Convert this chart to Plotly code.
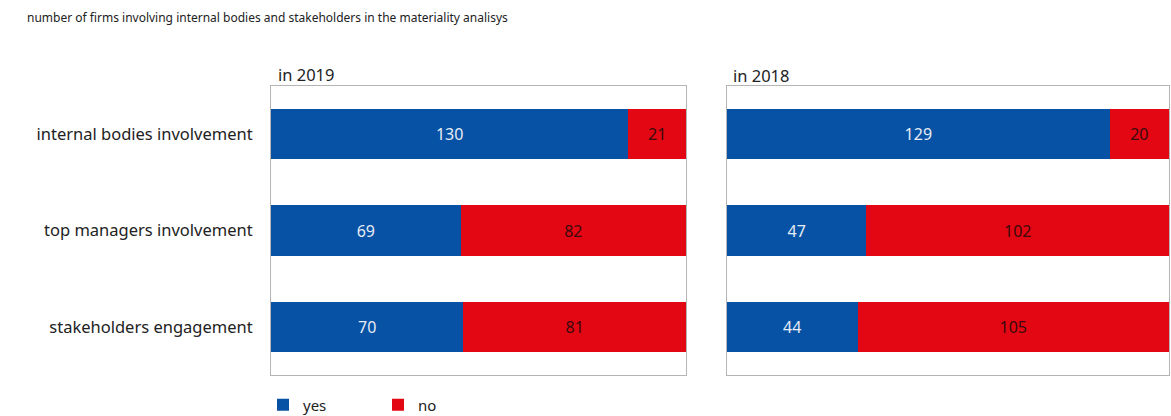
import plotly.graph_objects as go

categories = ["internal bodies involvement", "top managers involvement", "stakeholders engagement"]
yes_2019 = [130, 69, 70]
no_2019 = [21, 82, 81]
yes_2018 = [129, 47, 44]
no_2018 = [20, 102, 105]

BLUE = "#0752A5"
RED = "#E30613"
FONT = "Noto Sans, Open Sans, sans-serif"
W, H = 1171, 416

fig = go.Figure()

def add_panel(yes, no, xa, ya, show):
    fig.add_trace(go.Bar(y=categories, x=yes, orientation="h", name="yes",
                         marker=dict(color=BLUE, line=dict(width=0)),
                         text=yes, textposition="inside", insidetextanchor="middle",
                         textfont=dict(color="#E6ECF5", size=16, family=FONT),
                         xaxis=xa, yaxis=ya, showlegend=show, legendgroup="yes",
                         width=0.52, hoverinfo="skip"))
    fig.add_trace(go.Bar(y=categories, x=no, orientation="h", name="no",
                         marker=dict(color=RED, line=dict(width=0)),
                         text=no, textposition="inside", insidetextanchor="middle",
                         textfont=dict(color="#3A0A0C", size=16, family=FONT),
                         xaxis=xa, yaxis=ya, showlegend=show, legendgroup="no",
                         width=0.52, hoverinfo="skip"))

add_panel(yes_2019, no_2019, "x", "y", True)
add_panel(yes_2018, no_2018, "x2", "y2", False)

ydom = [1 - 375 / H, 1 - 86 / H]
axis_common = dict(showgrid=False, zeroline=False, showticklabels=False, ticks="",
                   showline=True, linecolor="#B5B5B5", linewidth=1, mirror=True, fixedrange=True)

fig.update_layout(
    width=W, height=H,
    margin=dict(l=0, r=0, t=0, b=0, autoexpand=False),
    paper_bgcolor="white", plot_bgcolor="white",
    barmode="stack",
    font=dict(family=FONT, color="#222222"),
    xaxis=dict(domain=[271 / W, 686 / W], range=[0, sum([yes_2019[0], no_2019[0]])], **axis_common),
    yaxis=dict(domain=ydom, categoryorder="array", categoryarray=categories[::-1],
               range=[-0.5, 2.5], showgrid=False, zeroline=False, ticks="",
               showline=True, linecolor="#B5B5B5", linewidth=1, mirror=True,
               tickfont=dict(size=16.5, color="#222222", family=FONT), ticklabelstandoff=14,
               fixedrange=True, automargin=False),
    xaxis2=dict(domain=[727 / W, 1169 / W], range=[0, sum([yes_2018[0], no_2018[0]])], anchor="y2", **axis_common),
    yaxis2=dict(domain=ydom, anchor="x2", categoryorder="array", categoryarray=categories[::-1],
                range=[-0.5, 2.5], showgrid=False, zeroline=False, showticklabels=False, ticks="",
                showline=True, linecolor="#B5B5B5", linewidth=1, mirror=True, fixedrange=True),
    legend=dict(orientation="h", x=263 / W, xanchor="left", y=1 - 405 / H, yanchor="middle",
                font=dict(size=15, color="#222222", family=FONT), entrywidth=70,
                itemwidth=30, bgcolor="rgba(0,0,0,0)", traceorder="normal"),
    uniformtext=dict(minsize=10, mode="show"),
)

fig.add_annotation(text="number of firms involving internal bodies and stakeholders in the materiality analisys",
                   x=25 / W, y=1 - 18 / H, xref="paper", yref="paper", xanchor="left", yanchor="middle",
                   showarrow=False, font=dict(size=12, color="#222222", family=FONT))
fig.add_annotation(text="in 2019", x=276 / W, y=1 - 74 / H, xref="paper", yref="paper",
                   xanchor="left", yanchor="middle", showarrow=False,
                   font=dict(size=16.5, color="#222222", family=FONT))
fig.add_annotation(text="in 2018", x=731 / W, y=1 - 75 / H, xref="paper", yref="paper",
                   xanchor="left", yanchor="middle", showarrow=False,
                   font=dict(size=16.5, color="#222222", family=FONT))

fig.write_html("out.html")
